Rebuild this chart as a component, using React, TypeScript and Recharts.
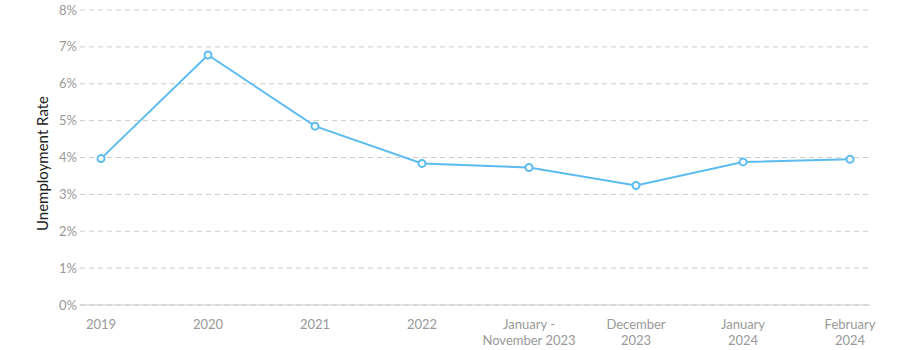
import React from "react";
import { LineChart, Line, XAxis, YAxis, CartesianGrid } from "recharts";

const categories = [
  "2019",
  "2020",
  "2021",
  "2022",
  "January -\nNovember 2023",
  "December\n2023",
  "January\n2024",
  "February\n2024",
];
const rates = [3.97, 6.78, 4.85, 3.84, 3.73, 3.24, 3.88, 3.95];
const yTicks = [0, 1, 2, 3, 4, 5, 6, 7, 8];

const data = categories.map((c, i) => ({ period: c, rate: rates[i] }));

const FONT = "Lato, 'Open Sans', sans-serif";

const XTick = (props: any) => {
  const { x, y, payload } = props;
  const lines = String(payload.value).split("\n");
  return (
    <text x={x} y={y + 7} textAnchor="middle" fill="#999" fontSize={13} fontFamily={FONT}>
      {lines.map((l, i) => (
        <tspan key={i} x={x} dy={i === 0 ? "0.71em" : 16}>
          {l}
        </tspan>
      ))}
    </text>
  );
};

export default function App() {
  return (
    <div style={{ position: "absolute", left: 0, top: 0, fontFamily: FONT }}>
      <LineChart
        width={900}
        height={350}
        data={data}
        margin={{ top: 10, right: 30, bottom: 0, left: 0 }}
      >
        <CartesianGrid vertical={false} stroke="#ccc" strokeDasharray="5 4" />
        <XAxis
          dataKey="period"
          interval={0}
          padding={{ left: 21, right: 20 }}
          axisLine={{ stroke: "#ccc" }}
          tickLine={false}
          tick={<XTick />}
          height={45}
        />
        <YAxis
          domain={[0, 8]}
          ticks={yTicks}
          tickFormatter={(v: number) => `${v}%`}
          axisLine={false}
          tickLine={false}
          width={80}
          tick={{ fill: "#999", fontSize: 13, fontFamily: FONT, dx: 5 }}
          label={{
            value: "Unemployment Rate",
            angle: -90,
            position: "insideLeft",
            dx: 38,
            dy: 6,
            style: { textAnchor: "middle", fill: "#222", fontSize: 15, fontFamily: FONT },
          }}
        />
        <Line
          type="linear"
          dataKey="rate"
          stroke="#5cbcf0"
          strokeWidth={2}
          dot={{ r: 3.5, fill: "#fff", stroke: "#5cbcf0", strokeWidth: 2 }}
          isAnimationActive={false}
        />
      </LineChart>
    </div>
  );
}
